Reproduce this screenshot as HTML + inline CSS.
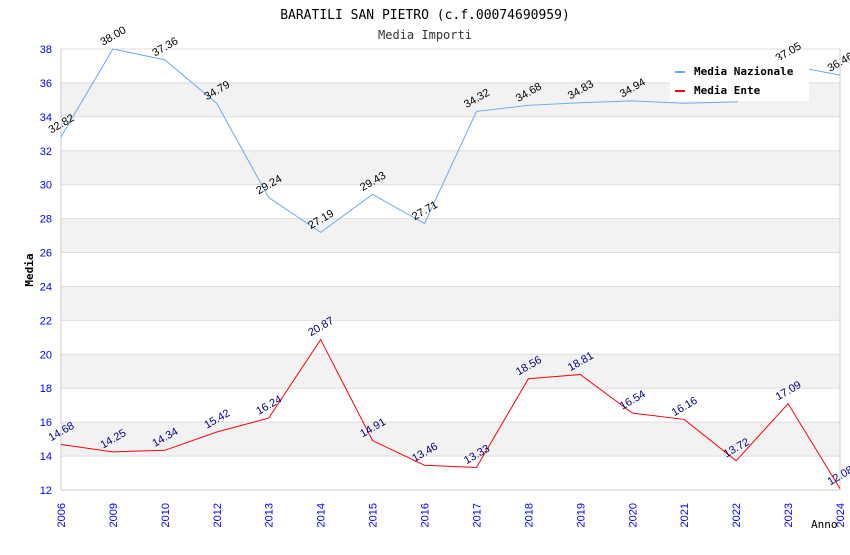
<!DOCTYPE html>
<html><head><meta charset="utf-8"><style>
body{margin:0;background:#fff}
svg text{font-family:"Liberation Sans",sans-serif}
.mono{font-family:"DejaVu Sans Mono","Liberation Mono",monospace}
</style></head><body>
<svg id="c" width="850" height="550" xmlns="http://www.w3.org/2000/svg">
<text class="mono" x="425" y="19" text-anchor="middle" font-size="13" fill="#000">BARATILI SAN PIETRO (c.f.00074690959)</text>
<text class="mono" x="425" y="39" text-anchor="middle" font-size="12" fill="#333">Media Importi</text>
<g id="bands"></g><g id="axes"></g><g id="series"></g>
<g>
<rect x="670" y="60" width="139" height="41" fill="#fff"/>
<rect x="675" y="71" width="10" height="2" fill="#6aaaf0"/>
<text class="mono" x="694" y="75" font-size="11" font-weight="bold">Media Nazionale</text>
<rect x="675" y="90" width="10" height="2" fill="#f00"/>
<text class="mono" x="694" y="94" font-size="11" font-weight="bold">Media Ente</text>
</g>
<text class="mono" x="33" y="270" transform="rotate(-90 33 270)" text-anchor="middle" font-size="11" font-weight="bold">Media</text>
<text class="mono" x="811" y="528" font-size="11">Anno</text>
</svg>
<script>
const categories=["2006","2009","2010","2012","2013","2014","2015","2016","2017","2018","2019","2020","2021","2022","2023","2024"];
const nazionale=[32.82,38.00,37.36,34.79,29.24,27.19,29.43,27.71,34.32,34.68,34.83,34.94,34.80,34.88,37.05,36.46];
const ente=[14.68,14.25,14.34,15.42,16.24,20.87,14.91,13.46,13.33,18.56,18.81,16.54,16.16,13.72,17.09,12.08];
const yTicks=[12,14,16,18,20,22,24,26,28,30,32,34,36,38];
const NS="http://www.w3.org/2000/svg";
const L=61,R=840,T=49,B=490,yMin=12,yMax=38;
const x=i=>L+(R-L)*i/(categories.length-1);
const y=v=>B-(v-yMin)/(yMax-yMin)*(B-T);
function mk(t,a,p){const e=document.createElementNS(NS,t);for(const k in a)e.setAttribute(k,a[k]);p.appendChild(e);return e;}
const bands=document.getElementById('bands'),axes=document.getElementById('axes'),series=document.getElementById('series');
for(let i=0;i<yTicks.length-1;i++){
 const r=mk('rect',{x:L,y:y(yTicks[i+1]),width:R-L,height:y(yTicks[i])-y(yTicks[i+1]),fill:(i%2==1)?'#f2f2f2':'#fff'},bands);
 
 
}
yTicks.forEach(v=>{
 mk('line',{x1:L,x2:R,y1:y(v),y2:y(v),stroke:'#ddd'},axes);
 const t=mk('text',{x:L-9,y:y(v)+4,'text-anchor':'end','font-size':11,fill:'#00f'},axes);t.textContent=v;
 
 
});
mk('line',{x1:L,x2:L,y1:T,y2:B,stroke:'#ccc'},axes);
mk('line',{x1:R,x2:R,y1:T,y2:B,stroke:'#ccc'},axes);
mk('line',{x1:L,x2:R,y1:B,y2:B,stroke:'#ccc'},axes);
categories.forEach((c,i)=>{
 const t=mk('text',{x:x(i)+4,y:503,transform:`rotate(-90 ${x(i)+4} 503)`,'text-anchor':'end','font-size':11,fill:'#00f'},axes);t.textContent=c;
 
 
});
function draw(vals,color,lab,name){
 const p=mk('polyline',{points:vals.map((v,i)=>x(i)+','+y(v)).join(' '),fill:'none',stroke:color,'stroke-width':1},series);
 
 
 vals.forEach((v,i)=>{
  const tx=x(i)+2,ty=y(v)-10;
  const t=mk('text',{x:tx,y:ty,transform:`rotate(-30 ${tx} ${ty})`,'text-anchor':'middle','font-size':11,fill:lab},series);
  t.textContent=v.toFixed(2);
  
  
 });
}
draw(nazionale,'#6aaaf0','#000','nazionale');
draw(ente,'#f00','#000080','ente');
</script>
</body></html>
